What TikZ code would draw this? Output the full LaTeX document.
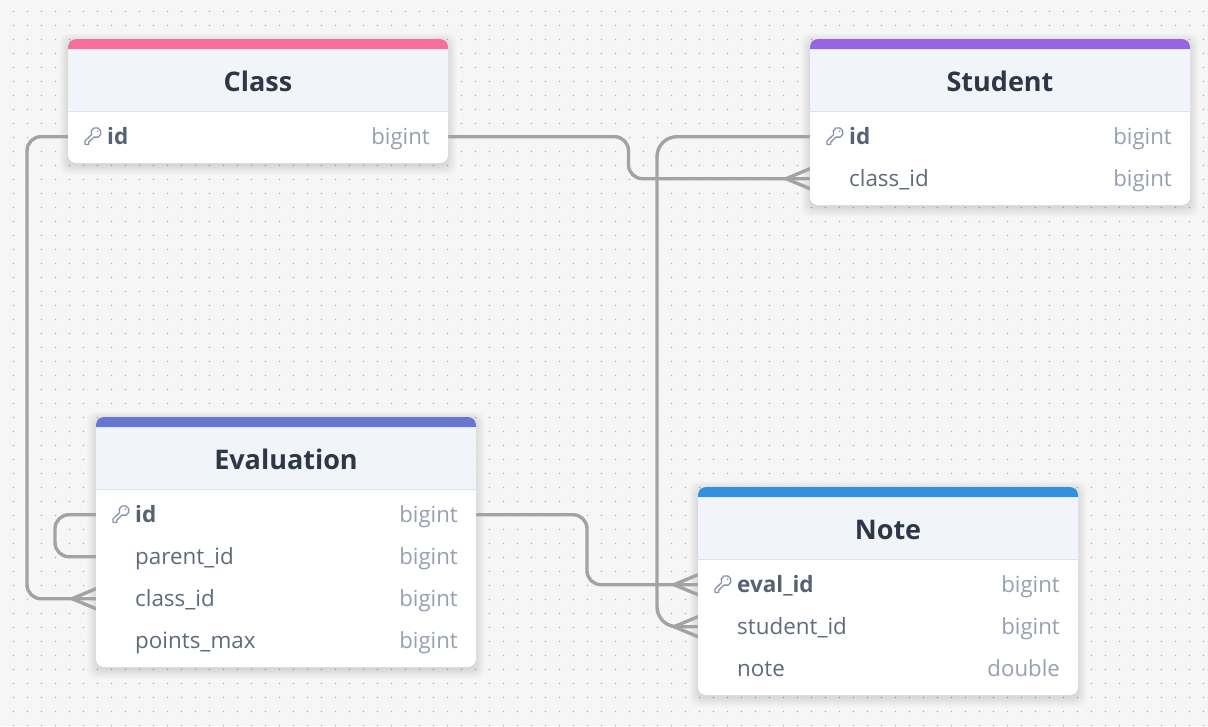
\documentclass[tikz,border=0pt]{standalone}
\usepackage{fontspec}
\setmainfont{Open Sans}
\definecolor{bgc}{HTML}{F6F6F6}
\definecolor{dotc}{HTML}{B8B8B8}
\definecolor{headc}{HTML}{F1F4F9}
\definecolor{linec}{HTML}{DDE3EE}
\definecolor{connc}{HTML}{A3A3A3}
\definecolor{titlec}{HTML}{2D3748}
\definecolor{keyname}{HTML}{566273}
\definecolor{namec}{HTML}{5F6B7A}
\definecolor{typec}{HTML}{96A0B0}
\definecolor{keyc}{HTML}{8794A6}
\definecolor{pinkc}{HTML}{F56F9B}
\definecolor{purplec}{HTML}{9764E2}
\definecolor{indigoc}{HTML}{6777D1}
\definecolor{bluec}{HTML}{3490DC}
\pgfdeclarelayer{shad}
\pgfdeclarelayer{conn}
\pgfsetlayers{shad,conn,main}
\tikzset{
  tablebody/.style={anchor=north west,fill=white,rounded corners=8pt,minimum width=380pt,inner sep=0pt,outer sep=0pt},
  rowbox/.style={anchor=west,minimum width=380pt,minimum height=42pt,inner sep=0pt,outer sep=0pt},
  titletext/.style={anchor=base,inner sep=0pt,text=titlec,font=\fontsize{27}{31}\selectfont\bfseries},
  nametext/.style={anchor=base west,inner sep=0pt,text=namec,font=\fontsize{22.4}{26}\selectfont},
  pktext/.style={anchor=base west,inner sep=0pt,text=keyname,font=\fontsize{22.5}{26}\selectfont\bfseries},
  typetext/.style={anchor=base east,inner sep=0pt,text=typec,font=\fontsize{22.2}{26}\selectfont},
  connline/.style={draw=connc,line width=3.4pt,line cap=round,line join=round},
  keyicon/.style={draw=keyc,line width=1.3pt,line join=round,line cap=round},
}
% name, x, y, height, bar colour, title
\newcommand\dbtable[6]{%
  \node[tablebody,minimum height=#4pt] (#1) at (#2,#3) {};
  \begin{pgfonlayer}{shad}
    \foreach \r in {9,8,7,6,5,4,3,2,1,0}{
      \fill[black,opacity=0.011,rounded corners=9pt]
        ({#2-\r},{#3+3-\r}) rectangle ({#2+380+\r},{#3+#4+3+\r});
    }
  \end{pgfonlayer}
  \fill[headc] ({#2},{#3+72}) [rounded corners=8pt] -- (#2,#3) -- ({#2+380},#3) [sharp corners] -- ({#2+380},{#3+72}) -- cycle;
  \fill[#5] ({#2},{#3+10}) [rounded corners=8pt] -- (#2,#3) -- ({#2+380},#3) [sharp corners] -- ({#2+380},{#3+10}) -- cycle;
  \fill[linec] (#2,{#3+72}) rectangle ({#2+380},{#3+73.2});
  \node[titletext] (#1-title) at ({#2+190},{#3+52}) {#6};
}
% name, table x, row centre y, label, type
\newcommand\dbrow[5]{%
  \node[rowbox] (#1) at (#2,{#3+0.7}) {};
  \node[nametext] (#1-name) at ({#2+39},{#3+8}) {#4};
  \node[typetext] (#1-type) at ({#2+362},{#3+8}) {#5};
}
\newcommand\dbkeyrow[5]{%
  \node[rowbox] (#1) at (#2,{#3+0.7}) {};
  \node[pktext] (#1-name) at ({#2+39},{#3+8}) {#4};
  \node[typetext] (#1-type) at ({#2+362},{#3+8}) {#5};
  \begin{scope}[shift={({#2+25},{#3+1})}]
    \draw[keyicon] (-1.5,-2.3) arc[start angle=155,end angle=475,radius=5] -- (-4.2,5) -- (-4.2,7.4) -- (-7.5,7.4) -- (-8,7) -- (-8,4) -- cycle;
    \fill[keyc] (4.6,-5.9) circle (0.9);
  \end{scope}
}
\newcommand\crowfoot[1]{%
  \draw[connline] ([xshift=-24pt]#1.west) -- ([yshift=10pt]#1.west);
  \draw[connline] ([xshift=-24pt]#1.west) -- ([yshift=-10pt]#1.west);
}
\begin{document}
\begin{tikzpicture}[x=1pt,y=-1pt]
\useasboundingbox (0,0) rectangle (1208,726);
\begin{pgfonlayer}{shad}
  \fill[bgc] (0,0) rectangle (1208,726);
  \foreach \i in {0,...,85}{
    \foreach \j in {0,...,51}{
      \fill[dotc] ({13.5+14*\i},{11.5+14*\j}) circle (0.85);
    }
  }
\end{pgfonlayer}

\dbtable{class}{68}{39}{124}{pinkc}{Class}
\dbkeyrow{class-id}{68}{136}{id}{bigint}

\dbtable{student}{810}{39}{166}{purplec}{Student}
\dbkeyrow{student-id}{810}{136}{id}{bigint}
\dbrow{student-classid}{810}{178}{class\_id}{bigint}

\dbtable{evaluation}{96}{417}{250}{indigoc}{Evaluation}
\dbkeyrow{eval-id}{96}{514}{id}{bigint}
\dbrow{eval-parentid}{96}{556}{parent\_id}{bigint}
\dbrow{eval-classid}{96}{598}{class\_id}{bigint}
\dbrow{eval-points}{96}{640}{points\_max}{bigint}

\dbtable{note}{698}{487}{208}{bluec}{Note}
\dbkeyrow{note-evalid}{698}{584}{eval\_id}{bigint}
\dbrow{note-studentid}{698}{626}{student\_id}{bigint}
\dbrow{note-note}{698}{668}{note}{double}

\begin{pgfonlayer}{conn}
  \draw[connline,rounded corners=14pt] (class-id.east) -| (628.5,178.7) -- (student-classid.west);
  \crowfoot{student-classid}
  \draw[connline,rounded corners=20pt] (student-id.west) -| (657,626.7) -- (note-studentid.west);
  \crowfoot{note-studentid}
  \draw[connline,rounded corners=14pt] (class-id.west) -| (27,598.7) -- (eval-classid.west);
  \crowfoot{eval-classid}
  \draw[connline,rounded corners=14pt] (eval-id.west) -| (55,556.7) -- (eval-parentid.west);
  \draw[connline,rounded corners=14pt] (eval-id.east) -| (587,584.7) -- (note-evalid.west);
  \crowfoot{note-evalid}
\end{pgfonlayer}
\end{tikzpicture}
\end{document}
